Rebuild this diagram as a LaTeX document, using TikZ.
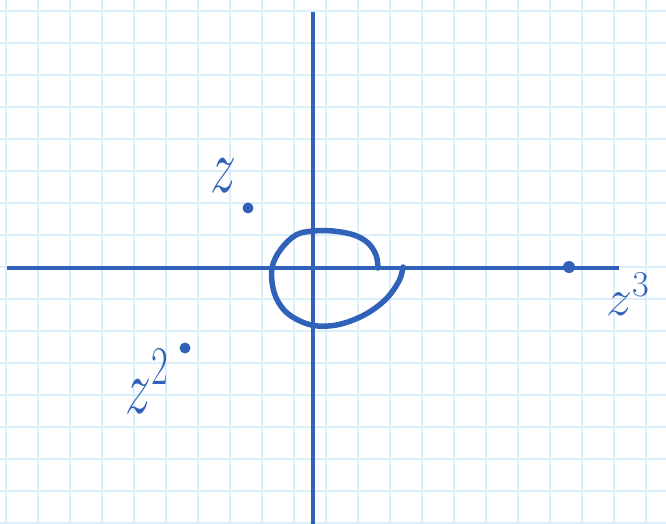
\RequirePackage{fix-cm}
\documentclass[tikz,border=0pt]{standalone}
\usetikzlibrary{positioning}
\definecolor{ink}{RGB}{48,98,186}
\definecolor{paper}{RGB}{218,238,251}

\begin{document}
\begin{tikzpicture}[x=1pt,y=-1pt,
  gridline/.style={paper,line width=2pt},
  axis/.style={ink,line width=4.5pt},
  pen/.style={ink,line width=5.5pt,line cap=round,line join=round},
  pt/.style={circle,fill=ink,inner sep=0pt,minimum size=11pt},
  lbl/.style={text=ink,inner sep=0pt,anchor=base west,font=\fontsize{52}{52}\selectfont}]
\useasboundingbox (0,0) rectangle (666,524);
\foreach \x in {6,38,...,646} \draw[gridline] (\x,0) -- (\x,524);
\foreach \y in {11,43,...,523} \draw[gridline] (0,\y) -- (666,\y);
\coordinate (west) at (7,268);
\coordinate (east) at (619,268);
\coordinate (north) at (313,12);
\coordinate (south) at (313,524);
\draw[axis] (west) -- (east);
\draw[axis] (north) -- (south);
\draw[pen] plot[smooth,tension=0.6] coordinates {(378,268) (376,255) (368,243) (354,235) (333,231) (313,231) (296,235) (281,249) (272,268) (274,292) (284,310) (300,321) (318,326) (341,324) (366,314) (386,299) (399,281) (403,267)};
\node[pt] (z1) at (248,208) {};
\node[pt] (z2) at (185,348) {};
\node[pt,minimum size=12pt] (z3) at (569,267) {};
\node[lbl] (l1) at (210,192) {\scalebox{1}[1.5]{$z$}};
\node[lbl] (l2) at (125,413) {\scalebox{1}[1.5]{$z^2$}};
\node[lbl] (l3) at (606,315) {$z^3$};
\end{tikzpicture}
\end{document}
